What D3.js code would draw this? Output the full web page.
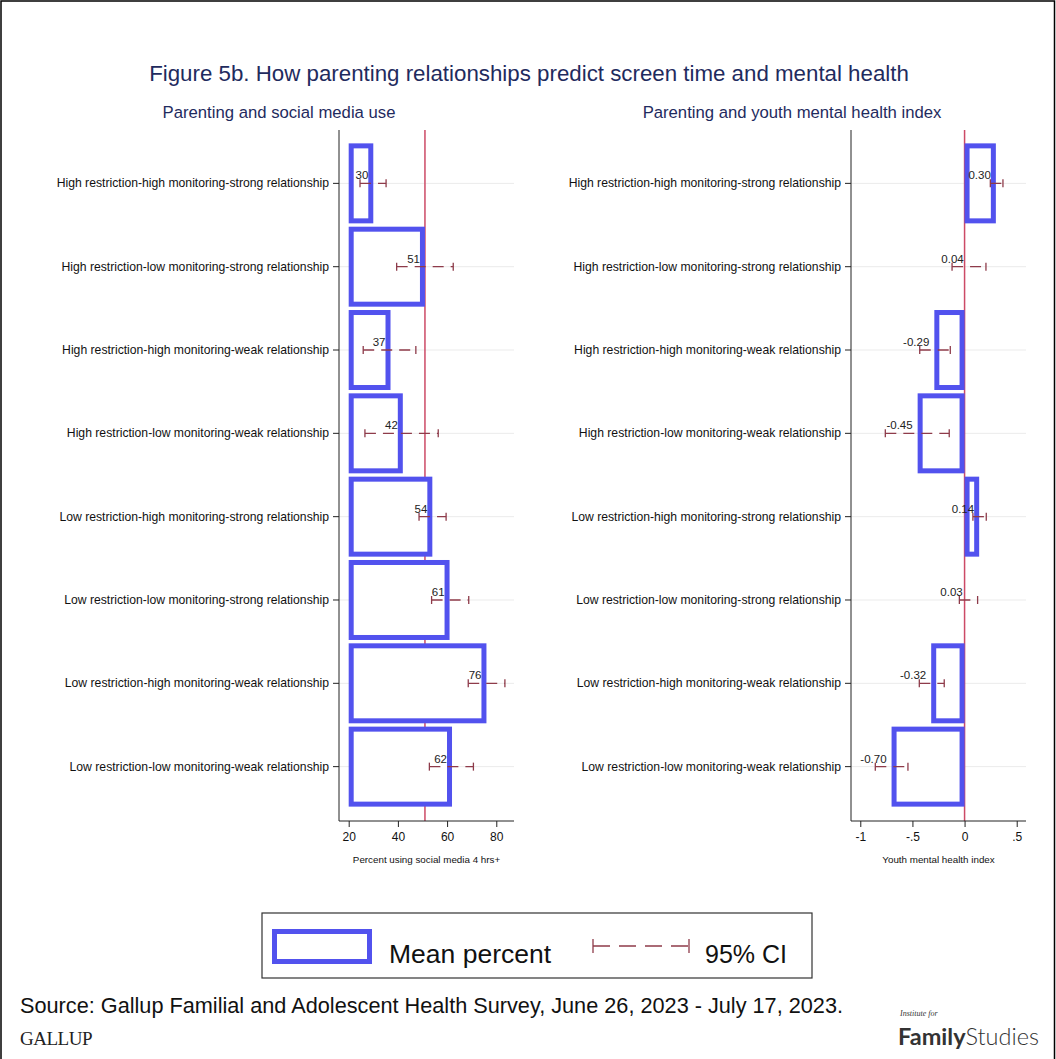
<!DOCTYPE html>
<html>
<head>
<meta charset="utf-8">
<script src="https://cdn.jsdelivr.net/npm/d3@7"></script>
<style>
  body { margin: 0; background: #fff; }
  svg { font-family: "Liberation Sans", Arial, sans-serif; }
</style>
</head>
<body>
<div id="chart"></div>
<script>
const categories = [
  'High restriction-high monitoring-strong relationship',
  'High restriction-low monitoring-strong relationship',
  'High restriction-high monitoring-weak relationship',
  'High restriction-low monitoring-weak relationship',
  'Low restriction-high monitoring-strong relationship',
  'Low restriction-low monitoring-strong relationship',
  'Low restriction-high monitoring-weak relationship',
  'Low restriction-low monitoring-weak relationship'
];

// percent using social media 4 hrs+
const socialMean = [30, 51, 37, 42, 54, 61, 76, 62];
const socialLow = [24.6, 39.5, 25.9, 26.6, 48.6, 53.7, 68.6, 52.8];
const socialHigh = [35.2, 62.5, 47.3, 56.4, 59.6, 68.8, 83.5, 70.7];
const socialLabels = ['30', '51', '37', '42', '54', '61', '76', '62'];
const socialRef = 51;
const socialTicks = [20, 40, 60, 80];

// youth mental health index
const healthMean = [0.30, 0.04, -0.29, -0.45, 0.14, 0.03, -0.32, -0.70];
const healthLow = [0.247, -0.12, -0.43, -0.76, 0.08, -0.05, -0.434, -0.856];
const healthHigh = [0.368, 0.205, -0.137, -0.147, 0.208, 0.125, -0.195, -0.543];
const healthLabels = ['0.30', '0.04', '-0.29', '-0.45', '0.14', '0.03', '-0.32', '-0.70'];
const healthRef = 0;
const healthTicks = [-1, -0.5, 0, 0.5];
const healthTickText = ['-1', '-.5', '0', '.5'];

const W = 1056, H = 1059;
const barColor = '#5252ee';
const ciColor = '#8e3b4a';
const refColor = '#cc4a66';
const navy = '#1f2b5e';

const svg = d3.select('#chart').append('svg')
  .attr('width', W)
  .attr('height', H);

// outer frame
svg.append('rect')
  .attr('x', 1).attr('y', 1)
  .attr('width', W - 2.5).attr('height', H + 20)
  .attr('fill', 'none').attr('stroke', '#000').attr('stroke-width', 1.5);

svg.append('text')
  .attr('x', 529).attr('y', 81)
  .attr('text-anchor', 'middle')
  .style('font-size', '22.3px')
  .attr('fill', navy)
  .text('Figure 5b. How parenting relationships predict screen time and mental health');

function panel(opts) {
  const top = 130, bottom = 821;
  const left = opts.left, right = opts.left + 175;

  const x = d3.scaleLinear().domain(opts.domain).range([left, right]);
  const y = d3.scaleBand()
    .domain(categories)
    .range([141.7, 808.3])
    .paddingInner(0.04)
    .paddingOuter(0.02);

  const g = svg.append('g');

  g.append('text')
    .attr('x', opts.titleX).attr('y', 118)
    .attr('text-anchor', 'middle')
    .style('font-size', '16.7px')
    .attr('fill', navy)
    .text(opts.title);

  // gridlines
  g.selectAll('.grid')
    .data(categories)
    .enter()
    .append('line')
    .attr('x1', left).attr('x2', right)
    .attr('y1', d => y(d) + y.bandwidth() / 2)
    .attr('y2', d => y(d) + y.bandwidth() / 2)
    .attr('stroke', '#ebebeb')
    .attr('stroke-width', 1);

  // reference line
  g.append('line')
    .attr('x1', x(opts.ref)).attr('x2', x(opts.ref))
    .attr('y1', top).attr('y2', bottom)
    .attr('stroke', refColor)
    .attr('stroke-width', 1.5);

  // bars, outline drawn inside the bar extent
  const sw = 5;
  g.selectAll('.bar')
    .data(opts.mean)
    .enter()
    .append('rect')
    .attr('x', d => Math.min(x(opts.base), x(d)) + sw / 2)
    .attr('width', d => Math.max(0, Math.abs(x(d) - x(opts.base)) - sw))
    .attr('y', (d, i) => y(categories[i]) + sw / 2)
    .attr('height', y.bandwidth() - sw)
    .attr('fill', '#fff')
    .attr('stroke', barColor)
    .attr('stroke-width', sw);

  // confidence intervals
  const ci = g.selectAll('.ci')
    .data(opts.mean.map((d, i) => ({lo: opts.low[i], hi: opts.high[i], yc: y(categories[i]) + y.bandwidth() / 2})))
    .enter()
    .append('g');
  ci.append('line')
    .attr('x1', d => x(d.lo)).attr('x2', d => x(d.hi))
    .attr('y1', d => d.yc).attr('y2', d => d.yc)
    .attr('stroke', ciColor)
    .attr('stroke-width', 1.3)
    .attr('stroke-dasharray', '11,7');
  ci.append('line')
    .attr('x1', d => x(d.lo)).attr('x2', d => x(d.lo))
    .attr('y1', d => d.yc - 4).attr('y2', d => d.yc + 4)
    .attr('stroke', ciColor).attr('stroke-width', 1.3);
  ci.append('line')
    .attr('x1', d => x(d.hi)).attr('x2', d => x(d.hi))
    .attr('y1', d => d.yc - 4).attr('y2', d => d.yc + 4)
    .attr('stroke', ciColor).attr('stroke-width', 1.3);

  // value labels
  g.selectAll('.val')
    .data(opts.mean)
    .enter()
    .append('text')
    .attr('x', d => x(d) - 5)
    .attr('y', (d, i) => y(categories[i]) + y.bandwidth() / 2 - 4)
    .attr('text-anchor', 'end')
    .style('font-size', '11.5px')
    .attr('fill', '#222')
    .text((d, i) => opts.labels[i]);

  // y axis
  const yAxis = d3.axisLeft(y).tickSize(6).tickPadding(4).tickSizeOuter(0);
  const ya = g.append('g')
    .attr('transform', `translate(${left},0)`)
    .call(yAxis);
  ya.select('.domain').remove();
  ya.append('line')
    .attr('x1', 0).attr('x2', 0)
    .attr('y1', top).attr('y2', bottom)
    .attr('stroke', '#222');
  ya.selectAll('.tick line').attr('stroke', '#222');
  ya.selectAll('.tick text')
    .attr('font-size', 12.2)
    .attr('font-family', '"Liberation Sans", Arial, sans-serif')
    .attr('fill', '#111');

  // x axis
  const xAxis = d3.axisBottom(x)
    .tickValues(opts.ticks)
    .tickFormat((d, i) => opts.tickText[i])
    .tickSize(6)
    .tickPadding(5)
    .tickSizeOuter(0);
  const xa = g.append('g')
    .attr('transform', `translate(0,${bottom})`)
    .call(xAxis);
  xa.select('.domain').remove();
  xa.append('line')
    .attr('x1', left).attr('x2', right)
    .attr('y1', 0).attr('y2', 0)
    .attr('stroke', '#222');
  xa.selectAll('.tick line').attr('stroke', '#222');
  xa.selectAll('.tick text')
    .attr('font-size', 12)
    .attr('font-family', '"Liberation Sans", Arial, sans-serif')
    .attr('fill', '#111');

  g.append('text')
    .attr('x', (left + right) / 2).attr('y', 863)
    .attr('text-anchor', 'middle')
    .style('font-size', '9.8px')
    .attr('fill', '#111')
    .text(opts.xTitle);
}

panel({
  left: 339,
  domain: [16.06, 87.2],
  base: 20,
  ref: socialRef,
  mean: socialMean, low: socialLow, high: socialHigh, labels: socialLabels,
  ticks: socialTicks, tickText: socialTicks.map(String),
  title: 'Parenting and social media use', titleX: 279,
  xTitle: 'Percent using social media 4 hrs+'
});

panel({
  left: 851,
  domain: [-1.089, 0.589],
  base: 0,
  ref: healthRef,
  mean: healthMean, low: healthLow, high: healthHigh, labels: healthLabels,
  ticks: healthTicks, tickText: healthTickText,
  title: 'Parenting and youth mental health index', titleX: 792,
  xTitle: 'Youth mental health index'
});

// legend
const lg = svg.append('g');
lg.append('rect')
  .attr('x', 262).attr('y', 913)
  .attr('width', 550).attr('height', 65)
  .attr('fill', '#fff').attr('stroke', '#333').attr('stroke-width', 1.2);
lg.append('rect')
  .attr('x', 274.5).attr('y', 931.5)
  .attr('width', 95).attr('height', 30)
  .attr('fill', '#fff').attr('stroke', barColor).attr('stroke-width', 5);
lg.append('text')
  .attr('x', 389).attr('y', 963)
  .style('font-size', '26.5px')
  .attr('fill', '#111')
  .text('Mean percent');
lg.append('line')
  .attr('x1', 593).attr('x2', 689).attr('y1', 946).attr('y2', 946)
  .attr('stroke', ciColor).attr('stroke-width', 1.3)
  .attr('stroke-dasharray', '17,9');
[593, 689].forEach(px => {
  lg.append('line')
    .attr('x1', px).attr('x2', px).attr('y1', 939).attr('y2', 953)
    .attr('stroke', ciColor).attr('stroke-width', 1.3);
});
lg.append('text')
  .attr('x', 705).attr('y', 963)
  .style('font-size', '25px')
  .attr('fill', '#111')
  .text('95% CI');

// footer
svg.append('text')
  .attr('x', 20).attr('y', 1013)
  .style('font-size', '21.7px')
  .attr('fill', '#111')
  .text('Source: Gallup Familial and Adolescent Health Survey, June 26, 2023 - July 17, 2023.');
svg.append('text')
  .attr('x', 20).attr('y', 1045)
  .style('font-size', '19px')
  .style('font-family', '"Liberation Serif", "DejaVu Serif", serif')
  .style('letter-spacing', '-0.5px')
  .attr('fill', '#222')
  .text('GALLUP');
svg.append('text')
  .attr('x', 900).attr('y', 1016)
  .style('font-size', '8px')
  .style('font-style', 'italic')
  .style('font-family', '"Liberation Serif", serif')
  .attr('fill', '#333')
  .text('Institute for');
const ifs = svg.append('text')
  .attr('x', 898).attr('y', 1045)
  .style('font-size', '23.5px')
  .style('font-family', 'Lato, "Open Sans", sans-serif')
  .attr('fill', '#333');
ifs.append('tspan').style('font-weight', 700).text('Family');
ifs.append('tspan').style('font-weight', 300).text('Studies');
</script>
</body>
</html>
